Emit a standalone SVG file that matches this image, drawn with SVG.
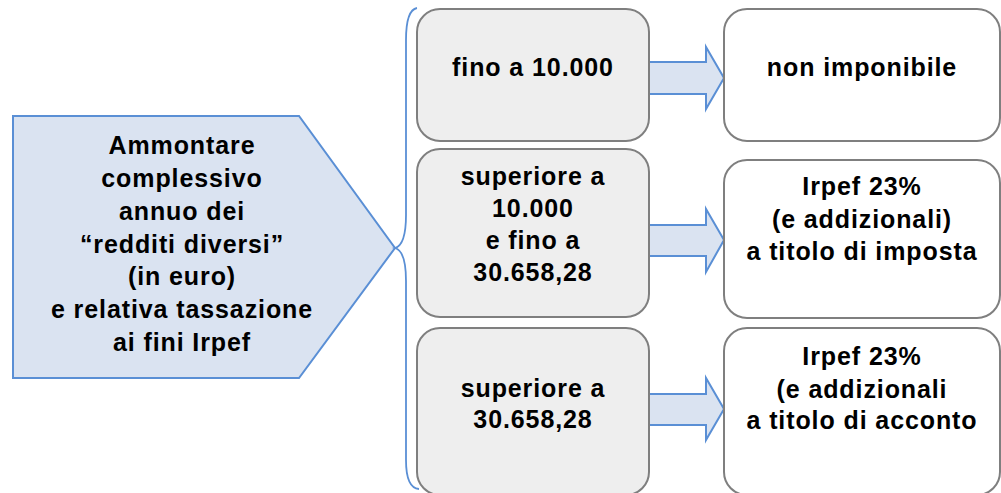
<svg xmlns="http://www.w3.org/2000/svg" width="1001" height="493" viewBox="0 0 1001 493">
<style>
  text { font-family: "Liberation Sans", Arial, sans-serif; font-weight: bold; font-size: 25px; letter-spacing: 0.9px; fill: #000; text-anchor: middle; }
  .blue { fill: #dae3f1; stroke: #5a8fd5; stroke-width: 2; }
  .range { fill: #eeeeee; stroke: #7f7f7f; stroke-width: 2; }
  .result { fill: #ffffff; stroke: #7f7f7f; stroke-width: 2; }
  .brace { fill: none; stroke: #5a8fd5; stroke-width: 1.8; }
</style>
<rect x="0" y="0" width="1001" height="493" fill="#ffffff"/>

<g id="main">
  <polygon class="blue" points="13,116 299,116 395,248 299,378 13,378"/>
  <text x="182" y="154">Ammontare</text>
  <text x="182" y="187">complessivo</text>
  <text x="182" y="220">annuo dei</text>
  <text x="182" y="253">“redditi diversi”</text>
  <text x="182" y="285">(in euro)</text>
  <text x="182" y="318">e relativa tassazione</text>
  <text x="182" y="351">ai fini Irpef</text>
</g>

<g id="connectors">
  <path id="brace" class="brace" d="M417,8 Q406,10 406,40 L406,215 Q406,245 395,248 Q406,251 406,281 L406,460 Q406,488 419,489"/>
  <polygon id="arrow1" class="blue" points="649,62 706,62 706,47 724,78 706,109 706,94 649,94"/>
  <polygon id="arrow2" class="blue" points="649,225 706,225 706,209 724,240 706,272 706,256 649,256"/>
  <polygon id="arrow3" class="blue" points="649,394 706,394 706,378 724,409 706,440 706,425 649,425"/>
</g>

<g id="range1">
  <rect class="range" x="417" y="9" width="232" height="132" rx="23" ry="23"/>
  <text x="533" y="76">fino a 10.000</text>
</g>

<g id="range2">
  <rect class="range" x="417" y="149" width="232" height="168" rx="23" ry="23"/>
  <text x="533" y="185">superiore a</text>
  <text x="533" y="217">10.000</text>
  <text x="533" y="249">e fino a</text>
  <text x="533" y="281">30.658,28</text>
</g>

<g id="range3">
  <rect class="range" x="417" y="328" width="232" height="167" rx="23" ry="23"/>
  <text x="533" y="397">superiore a</text>
  <text x="533" y="428">30.658,28</text>
</g>

<g id="result1">
  <rect class="result" x="724" y="9" width="276" height="132" rx="23" ry="23"/>
  <text x="862" y="76">non imponibile</text>
</g>

<g id="result2">
  <rect class="result" x="724" y="160" width="276" height="158" rx="23" ry="23"/>
  <text x="862" y="195">Irpef 23%</text>
  <text x="862" y="228">(e addizionali)</text>
  <text x="862" y="260">a titolo di imposta</text>
</g>

<g id="result3">
  <rect class="result" x="724" y="328" width="276" height="167" rx="23" ry="23"/>
  <text x="862" y="365">Irpef 23%</text>
  <text x="862" y="398">(e addizionali</text>
  <text x="862" y="429">a titolo di acconto</text>
</g>
</svg>
